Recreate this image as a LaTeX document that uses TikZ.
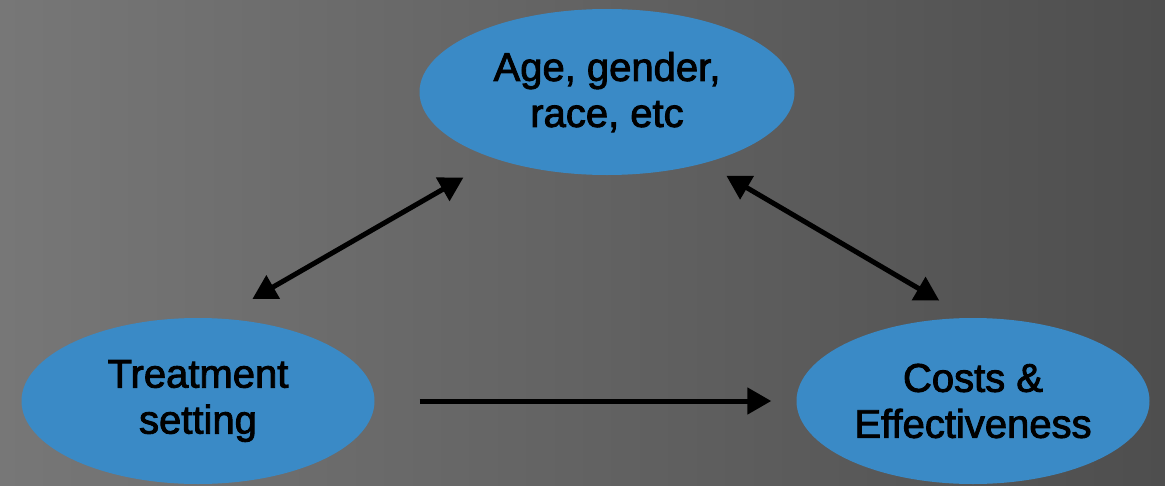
\documentclass[tikz,border=0pt]{standalone}
\usepackage{fontspec}
\setmainfont{Liberation Sans}
\newfontfamily\bubblefont[RawFeature={embolden=2.2}]{Liberation Sans}
\usetikzlibrary{arrows.meta,shapes.geometric}
\definecolor{bgleft}{HTML}{777777}
\definecolor{bgright}{HTML}{4E4E4E}
\definecolor{bubbleblue}{HTML}{3A8AC6}
\tikzset{
  bubble/.style={ellipse, fill=bubbleblue, inner sep=0pt, align=center,
    font=\bubblefont\fontsize{40}{46}\selectfont, minimum width=#1, minimum height=166pt},
  link/.style={line width=5pt, black}
}
\begin{document}
\begin{tikzpicture}[x=1pt,y=-1pt]
    % Draw the background
    \shade[left color=bgleft, right color=bgright] (0,0) rectangle (1165,485);
    \useasboundingbox (0,0) rectangle (1165,485);
    % Draw the three bubbles
    \node[bubble=375pt] (demo) at (607,92) {Age, gender,\\race, etc};
    \node[bubble=353pt] (treat) at (198,401) {Treatment\\setting};
    \node[bubble=353pt] (costs) at (973,401) {Costs \&\\Effectiveness};
    % Draw the arrows
    \draw[link, {Triangle[length=24pt,width=26pt]}-{Triangle[length=24pt,width=26pt]},
      shorten <=39pt, shorten >=37pt] (treat.76) -- (demo.211);
    \draw[link, {Triangle[length=24pt,width=26pt]}-{Triangle[length=24pt,width=26pt]},
      shorten <=25pt, shorten >=34pt] (demo.324) -- (costs.93);
    \draw[link, -{Triangle[length=24pt,width=26pt]},
      shorten <=45pt, shorten >=25pt] (treat.east) -- (costs.west);
\end{tikzpicture}
\end{document}
